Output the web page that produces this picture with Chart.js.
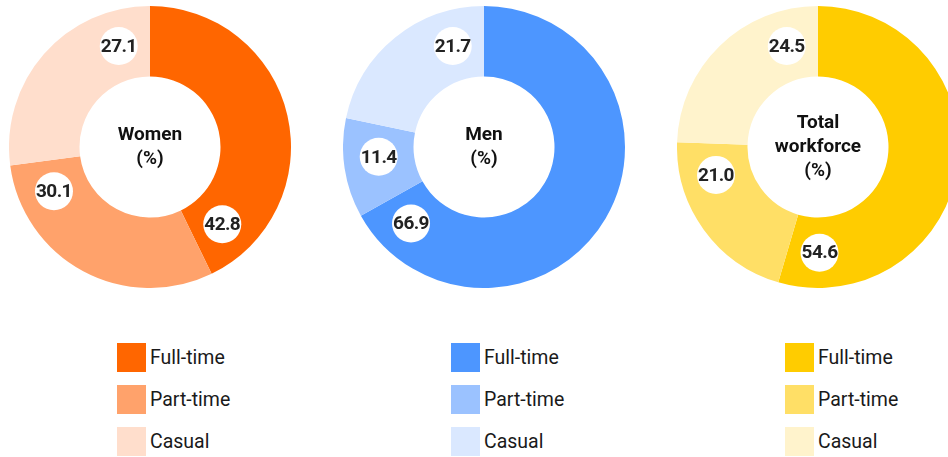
<!DOCTYPE html>
<html>
<head>
<meta charset="utf-8">
<script src="https://cdn.jsdelivr.net/npm/chart.js@4"></script>
<style>
  html, body { margin: 0; padding: 0; background: #fff; }
  #wrap { position: relative; width: 948px; height: 457px; overflow: hidden; font-family: Roboto, sans-serif; }
  .donut { position: absolute; top: 6px; width: 282px; height: 282px; }
  .legend { position: absolute; top: 343px; }
  .row { display: flex; align-items: center; height: 29px; margin-bottom: 13px; }
  .sw { width: 29px; height: 29px; margin-right: 4px; }
  .row span { font-size: 19.5px; color: #1a1a1a; }
</style>
</head>
<body>
<div id="wrap"></div>
<script>
// カテゴリと各グループの値
const categories = ['Full-time', 'Part-time', 'Casual'];
const groups = [['Women'], ['Men'], ['Total', 'workforce']];
const womenValues = [42.8, 30.1, 27.1];
const menValues = [66.9, 11.4, 21.7];
const totalValues = [54.6, 21.0, 24.5];
const seriesValues = [womenValues, menValues, totalValues];

const palettes = [
    ['#FF6600', '#FFA26B', '#FFDECC'],
    ['#4D96FF', '#9BC2FF', '#DAE8FF'],
    ['#FFCC00', '#FFDF66', '#FFF3CC']
];

const centers = [150, 484, 818];

// 数値ラベル（白い丸）
const valueLabels = {
    id: 'valueLabels',
    afterDatasetsDraw(chart) {
        const c = chart.ctx;
        const meta = chart.getDatasetMeta(0);
        const data = chart.data.datasets[0].data;
        meta.data.forEach((arc, i) => {
            const p = arc.getProps(['x', 'y', 'endAngle', 'innerRadius', 'outerRadius'], true);
            const a = p.endAngle - 0.3;
            const r = (p.innerRadius + p.outerRadius) / 2;
            const x = p.x + Math.cos(a) * r;
            const y = p.y + Math.sin(a) * r;
            c.save();
            c.beginPath();
            c.arc(x, y, 19, 0, Math.PI * 2);
            c.fillStyle = '#fff';
            c.fill();
            c.fillStyle = '#222';
            c.font = 'bold 19px Roboto';
            c.letterSpacing = '-0.6px';
            c.textAlign = 'center';
            c.textBaseline = 'middle';
            c.fillText(data[i].toFixed(1), x, y + 1);
            c.restore();
        });
    }
};

// 中央のテキスト
const centerText = {
    id: 'centerText',
    afterDraw(chart, args, opts) {
        const c = chart.ctx;
        const meta = chart.getDatasetMeta(0);
        const cx = meta.data[0].x, cy = meta.data[0].y;
        const lines = opts.lines.concat(['(%)']);
        const lh = 24;
        c.save();
        c.fillStyle = '#111';
        c.font = 'bold 19px Roboto';
        c.textAlign = 'center';
        c.textBaseline = 'middle';
        lines.forEach((t, i) => {
            c.fillText(t, cx, cy + (i - (lines.length - 1) / 2) * lh);
        });
        c.restore();
    }
};

const wrap = document.getElementById('wrap');

seriesValues.forEach((vals, g) => {
    const canvas = document.createElement('canvas');
    canvas.className = 'donut';
    canvas.style.left = (centers[g] - 141) + 'px';
    wrap.appendChild(canvas);

    new Chart(canvas, {
        type: 'doughnut',
        data: {
            labels: categories,
            datasets: [{
                data: vals,
                backgroundColor: palettes[g],
                borderWidth: 0
            }]
        },
        options: {
            responsive: false,
            animation: false,
            cutout: '50%',
            layout: { padding: 0 },
            plugins: {
                legend: { display: false },
                tooltip: { enabled: false },
                centerText: { lines: groups[g] }
            }
        },
        plugins: [valueLabels, centerText]
    });

    // 凡例
    const lg = document.createElement('div');
    lg.className = 'legend';
    lg.style.left = (centers[g] - 33) + 'px';
    categories.forEach((cat, i) => {
        const row = document.createElement('div');
        row.className = 'row';
        row.innerHTML = '<div class="sw" style="background:' + palettes[g][i] + '"></div><span>' + cat + '</span>';
        lg.appendChild(row);
    });
    wrap.appendChild(lg);
});
</script>
</body>
</html>
